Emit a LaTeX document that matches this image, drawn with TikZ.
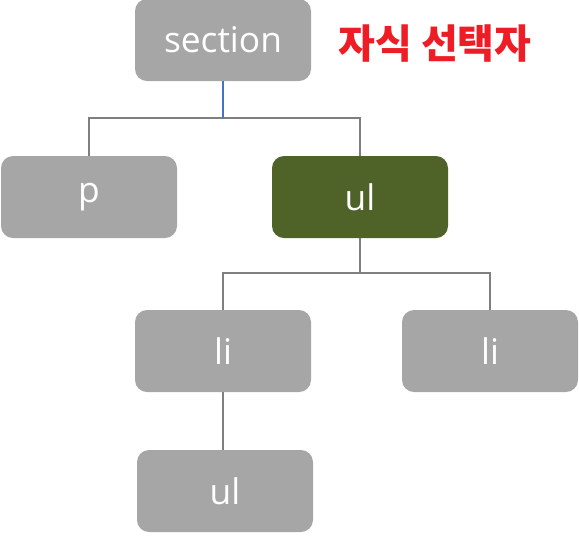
\documentclass[tikz,border=0pt]{standalone}
\usepackage{fontspec}
\setmainfont{Open Sans}
\newfontfamily\krfont{Noto Sans CJK KR}
\usetikzlibrary{positioning}
\definecolor{boxgray}{HTML}{A6A6A6}
\definecolor{olive}{HTML}{4F6228}
\definecolor{linegray}{HTML}{7F7F7F}
\definecolor{linkblue}{HTML}{4472C4}
\definecolor{titlered}{HTML}{EE1C24}

\begin{document}
\begin{tikzpicture}[
  x=0.75pt,y=-0.75pt,
  every node/.style={font=\fontsize{26.5}{30}\selectfont,text=white},
  box/.style={fill=boxgray,rounded corners=9pt,
              minimum width=132pt,minimum height=61.5pt,inner sep=0pt},
  pick/.style={box,fill=olive},
  link/.style={draw=linegray,line width=2.2pt},
  up/.style={draw=linkblue,line width=1.4pt}
]
\useasboundingbox (0,0) rectangle (579,537);
\node[box] (sec) at (223,40) {section};
\node[box] (p) at (89,197) {p};
\node[pick] (ul) at (360,197) {ul};
\node[box] (li1) at (223,351) {li};
\node[box] (li2) at (490,351) {li};
\node[box] (ul2) at (225,491) {ul};
\node[font=\krfont\bfseries\fontsize{30}{34}\selectfont,text=titlered]
  (title) at (435,44) {자식 선택자};

\coordinate (j1) at (223,118);
\coordinate (j2) at (360,273);
\draw[link] (j1) -| (p.north);
\draw[link] (j1) -| (ul.north);
\draw[up] (sec.south) -- (j1);
\draw[link] (ul.south) -- (j2);
\draw[link] (j2) -| (li1.north);
\draw[link] (j2) -| (li2.north);
\draw[link] (li1.south) -- (li1.south |- ul2.north);
\end{tikzpicture}
\end{document}
